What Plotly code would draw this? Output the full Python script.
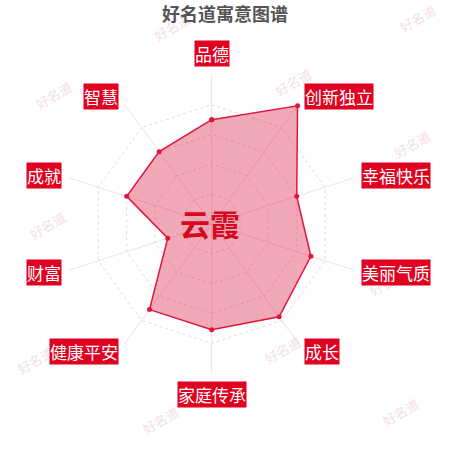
import math
import plotly.graph_objects as go

# data
categories = ["品德", "创新独立", "幸福快乐", "美丽气质", "成长",
              "家庭传承", "健康平安", "财富", "成就", "智慧"]
scores = [70, 98, 60, 70, 77, 71, 71, 31, 60, 60]
name = "云霞"
title = "好名道寓意图谱"
watermark = "好名道"
wm_spots = [(172, 28), (417, 18), (53, 95), (293, 83), (412, 145), (47, 225),
            (387, 282), (35, 360), (282, 350), (160, 420), (400, 412)]

W = H = 450
cx, cy, R = 211.7, 224.0, 149.0   # polar centre / radius in pixels

red = "#e0001f"
fig = go.Figure()
fig.add_trace(go.Scatterpolar(
    r=scores + scores[:1], theta=categories + categories[:1],
    fill="toself", fillcolor="rgba(222,40,75,0.40)",
    line=dict(color="#e0153c", width=1.5),
    marker=dict(color="#e0153c", size=5),
    mode="lines+markers", hoverinfo="skip"))

fig.update_layout(
    width=W, height=H, margin=dict(l=0, r=0, t=0, b=0),
    paper_bgcolor="white", showlegend=False,
    font=dict(family="Noto Sans CJK SC"),
    polar=dict(
        domain=dict(x=[(cx - R) / W, (cx + R) / W], y=[1 - (cy + R) / H, 1 - (cy - R) / H]),
        bgcolor="rgba(0,0,0,0)", gridshape="linear",
        angularaxis=dict(direction="clockwise", rotation=90, showticklabels=False,
                         ticks="", showline=False, gridcolor="#f4dde3", gridwidth=1),
        radialaxis=dict(range=[0, 100], dtick=20, showticklabels=False, ticks="",
                        showline=False, gridcolor="#f1d2db", griddash="dot", gridwidth=1),
    ),
)

# watermarks
for (x, y) in wm_spots:
    fig.add_annotation(x=x / W, y=1 - y / H, xref="paper", yref="paper", text=watermark,
                       showarrow=False, textangle=-30, xanchor="center", yanchor="middle",
                       font=dict(size=13, color="rgba(232,188,204,0.5)"))

# category labels in red boxes
n = len(categories)
for i, c in enumerate(categories):
    a = 2 * math.pi * i / n
    px = cx + (R + 8) * math.sin(a)
    py = cy - (R + 8) * math.cos(a)
    s, co = math.sin(a), math.cos(a)
    xa = "left" if s > 0.01 else ("right" if s < -0.01 else "center")
    ya = "bottom" if co > 0.99 else ("top" if co < -0.99 else "middle")
    fig.add_annotation(x=px / W, y=1 - py / H, xref="paper", yref="paper", text=c,
                       showarrow=False, xanchor=xa, yanchor=ya,
                       bgcolor=red, borderpad=0,
                       font=dict(size=17, color="white"))

fig.add_annotation(x=210 / W, y=1 - 223 / H, xref="paper", yref="paper",
                   text="<b>" + name + "</b>", showarrow=False,
                   xanchor="center", yanchor="middle",
                   font=dict(size=30, color="#d4091f"))
fig.add_annotation(x=225 / W, y=1 - 13 / H, xref="paper", yref="paper",
                   text="<b>" + title + "</b>", showarrow=False,
                   xanchor="center", yanchor="middle",
                   font=dict(size=18, color="#555555"))

fig.write_html("out.html", config={"displayModeBar": False},
               post_script="document.body.style.margin='0';")
